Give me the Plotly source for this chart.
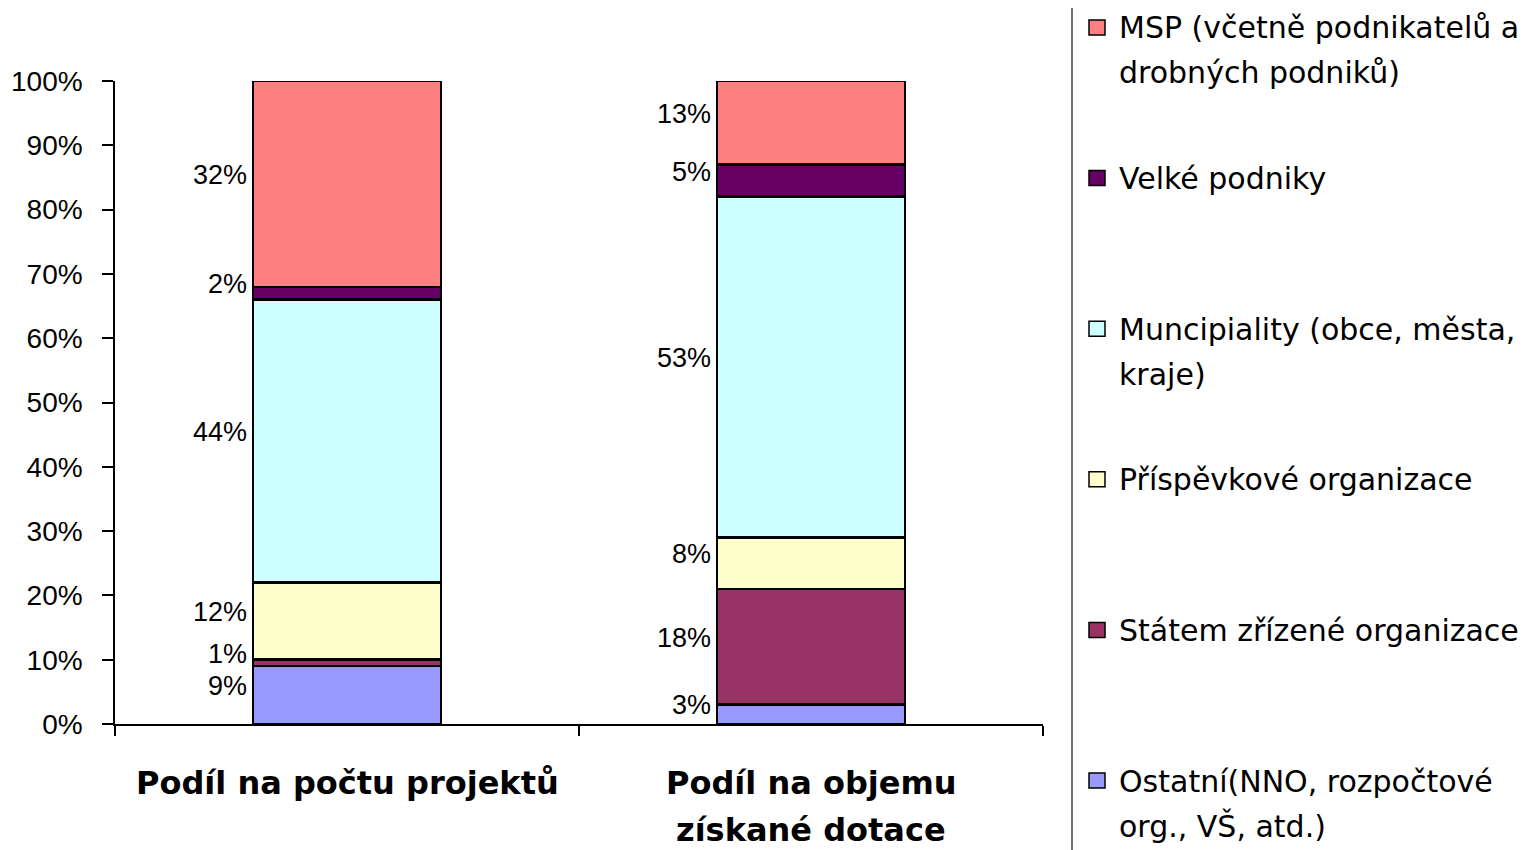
import plotly.graph_objects as go

# ---- data ----
categories = ["Podíl na počtu projektů", "Podíl na objemu získané dotace"]
category_lines = [["Podíl na počtu projektů"], ["Podíl na objemu", "získané dotace"]]
series_names = [
    "Ostatní(NNO, rozpočtové org., VŠ, atd.)",
    "Státem zřízené organizace",
    "Příspěvkové organizace",
    "Muncipiality (obce, města, kraje)",
    "Velké podniky",
    "MSP (včetně podnikatelů a drobných podniků)",
]
legend_lines = [
    ["Ostatní(NNO, rozpočtové", "org., VŠ, atd.)"],
    ["Státem zřízené organizace"],
    ["Příspěvkové organizace"],
    ["Muncipiality (obce, města,", "kraje)"],
    ["Velké podniky"],
    ["MSP (včetně podnikatelů a", "drobných podniků)"],
]
share_projects = [0.09, 0.01, 0.12, 0.44, 0.02, 0.32]
share_subsidy = [0.03, 0.18, 0.08, 0.53, 0.05, 0.13]
colors = ["#9999FF", "#993366", "#FFFFCC", "#CCFFFF", "#660066", "#FF8080"]
y_ticks = [0, 0.1, 0.2, 0.3, 0.4, 0.5, 0.6, 0.7, 0.8, 0.9, 1.0]

# ---- geometry (page has an 8px body margin) ----
OFF = 8
W, H = 1526 - OFF, 850 - OFF
ML, MR, MT, MB = 107, 483, 73, 126
PW, PH = W - ML - MR, H - MT - MB
BAR_W = 0.405

def px_x(p):  # screen px -> paper x
    return (p - OFF - ML) / PW

def px_y(p):  # screen px -> paper y
    return (H - MB - (p - OFF)) / PH

NUM_FONT = "Liberation Sans"

fig = go.Figure()
cols = list(zip(share_projects, share_subsidy))
for i, name in enumerate(series_names):
    fig.add_trace(go.Bar(
        x=categories, y=list(cols[i]), name=name,
        marker=dict(color=colors[i], line=dict(color="black", width=2.5)),
        width=BAR_W, showlegend=False, hoverinfo="name+y",
    ))

annotations = []
# data labels, left of each segment
half_bar_px = BAR_W * (PW / len(categories)) / 2
for ci, cat in enumerate(categories):
    vals = [share_projects, share_subsidy][ci]
    cum = 0
    for v in vals:
        annotations.append(dict(
            x=cat, y=cum + v / 2, xref="x", yref="y",
            text=f"{round(v * 100)}%", showarrow=False,
            xanchor="right", yanchor="middle",
            xshift=-(half_bar_px + 4), yshift=9,
            font=dict(family=NUM_FONT, size=27, color="black"),
        ))
        cum += v

# category labels
for ci, cat in enumerate(categories):
    for li, line in enumerate(category_lines[ci]):
        annotations.append(dict(
            x=cat, y=px_y(783 + 47 * li), xref="x", yref="paper",
            text=f"<b>{line}</b>", showarrow=False,
            xanchor="center", yanchor="middle",
            font=dict(family="DejaVu Sans", size=32, color="black"),
        ))

# manual legend (top to bottom = reverse of stack order)
shapes = [dict(type="line", xref="paper", yref="paper",
               x0=px_x(1072), x1=px_x(1072), y0=px_y(0), y1=px_y(850),
               line=dict(color="#444444", width=1.5))]
first_line_y = 28
spacing = 150.6
for k, idx in enumerate(reversed(range(len(series_names)))):
    y0 = first_line_y + spacing * k
    shapes.append(dict(type="rect", xref="paper", yref="paper",
                       x0=px_x(1089), x1=px_x(1105),
                       y0=px_y(y0 - 8), y1=px_y(y0 + 7),
                       fillcolor=colors[idx], line=dict(color="black", width=1.5)))
    for li, line in enumerate(legend_lines[idx]):
        annotations.append(dict(
            x=px_x(1117), y=px_y(y0 + 45 * li), xref="paper", yref="paper",
            text=line, showarrow=False, xanchor="left", yanchor="middle",
            font=dict(family="DejaVu Sans", size=30, color="black"),
        ))

fig.update_layout(
    width=W, height=H,
    margin=dict(l=ML, r=MR, t=MT, b=MB, autoexpand=False),
    barmode="stack",
    plot_bgcolor="white", paper_bgcolor="white",
    annotations=annotations, shapes=shapes,
    showlegend=False,
    xaxis=dict(
        showline=True, linecolor="black", linewidth=1.5,
        ticks="outside", tickson="boundaries", ticklen=10, tickcolor="black",
        tickwidth=1.5, showticklabels=False, showgrid=False, automargin=False,
    ),
    yaxis=dict(
        range=[0, 1], tickvals=y_ticks, tickformat=".0%",
        showline=True, linecolor="black", linewidth=1.5,
        ticks="outside", ticklen=11, tickcolor="black", tickwidth=1.5,
        showgrid=False, zeroline=False, ticklabelstandoff=14, automargin=False,
        tickfont=dict(family=NUM_FONT, size=28, color="black"),
    ),
)

fig.write_html("out.html")
